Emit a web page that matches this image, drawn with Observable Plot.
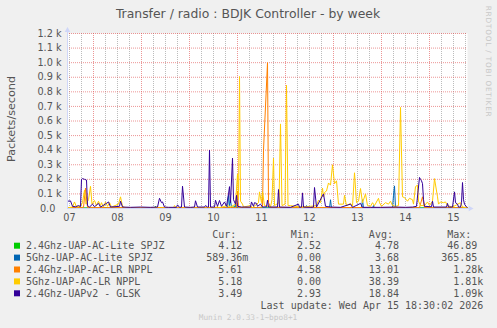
<!DOCTYPE html>
<html><head><meta charset="utf-8">
<script src="https://cdn.jsdelivr.net/npm/d3@7"></script>
<script src="https://cdn.jsdelivr.net/npm/@observablehq/plot@0.6"></script>
<style>
html,body{margin:0;padding:0;background:#F0F0F0;}
#wrap{position:relative;width:497px;height:328px;background:#F0F0F0;overflow:hidden;}
#wrap svg{position:absolute;left:0;top:0;}
</style></head><body><div id="wrap"></div>
<script>
// ---- data (hours since 2026-04-07 00:00 UTC, value in packets/second) ----
const titleText = "Transfer / radio : BDJK Controller - by week";
const yLabel = "Packets/second";
const seriesNames = ["2.4Ghz-UAP-AC-Lite SPJZ","5Ghz-UAP-AC-Lite SPJZ","2.4Ghz-UAP-AC-LR NPPL","5Ghz-UAP-AC-LR NPPL","2.4Ghz-UAPv2 - GLSK"];
const seriesColors = ["#00CC00","#0066B3","#FF8000","#FFCC00","#330099"];
const curVals = ["4.12","589.36m","5.61","5.18","3.49"];
const minVals = ["2.52","0.00","4.58","0.00","2.93"];
const avgVals = ["4.78","3.68","13.01","38.39","18.84"];
const maxVals = ["46.89","365.85","1.28k","1.81k","1.09k"];
const lastUpdate = "Last update: Wed Apr 15 18:30:02 2026";
const muninVersion = "Munin 2.0.33-1~bpo8+1";
const watermark = "RRDTOOL / TOBI OETIKER";
const dayLabels = [7,8,9,10,11,12,13,14,15];
const yTicks = [0,100,200,300,400,500,600,700,800,900,1000,1100,1200];
const startHour = 11, endHour = 211;

const green = [[11,4],[40,4],[54.5,4],[55,15],[55.5,4],[90,4],[95,12],[96,4],[140,5],[211,4.12]];
const blue = [[11,1],[60,1],[91,2],[91.5,90],[92,20],[92.5,60],[93,5],[94.5,5],[95,30],[95.5,3],[130,2],[130.5,20],[131,2],
  [142,2],[142.5,60],[143,2],[158,2],[158.5,60],[159,2],[163.5,2],[164,20],[164.5,2],[173.5,2],[174,90],[174.5,155],[175,2],[211,0.6]];
const orange = [[11,6],[19,8],[20,140],[21,8],[30,6],[60,7],[90,6],[95.5,6],[96,120],[96.5,6],[106,6],[108.5,10],[109,400],
  [111,1000],[111.5,40],[112.5,8],[140,7],[187,6],[188.5,80],[189.5,6],[211,5.61]];
const yellow = [[11,5],[13.5,10],[14.5,45],[15.5,10],[17.5,15],[18.5,40],[19.5,125],[20.25,30],[21.5,60],[22.5,152],[23.25,30],
  [24.5,55],[25.5,20],[26.5,50],[27.5,20],[28,40],[29,10],[30,45],[31,15],[32,40],[33,10],[36.5,30],[37.5,80],[38.5,15],[40,5],
  [42.5,3],[57.5,3],[64,5],[64.5,20],[65.5,3],[85,3],[86,15],[86.5,4],[91,20],[92.5,10],[95,30],[96,235],[96.5,60],[97,905],
  [97.5,50],[98.5,30],[99,10],[102.5,20],[103.5,5],[106.5,40],[107,114],[108,40],[108.5,114],[109.5,20],[112.5,10],[113.25,60],
  [114,345],[114.5,20],[116.75,40],[117.5,580],[118.25,20],[119.75,30],[120.5,845],[121.25,20],[122.5,20],[127.5,10],[132.5,15],
  [135.5,20],[136.5,57],[137.5,40],[138.5,140],[139,80],[139.5,110],[140.5,120],[141.5,175],[142.5,160],[143.5,300],[144.5,170],
  [145.5,190],[146.5,30],[149,30],[149.5,90],[150.5,20],[152.5,35],[153.5,15],[154.5,245],[155.5,40],[156.5,50],[157.5,137],
  [158.5,40],[160,100],[161,20],[162.5,15],[163.5,40],[164.5,20],[166.5,70],[167,40],[168,15],[170,40],[171.5,30],[172.5,50],
  [173.5,20],[175,15],[176.5,20],[177.5,693],[178.5,80],[179.5,75],[181,50],[182,70],[183.5,60],[184,30],[185,150],[186,160],
  [186.5,50],[187.5,20],[189.5,20],[191,45],[192,20],[193.5,50],[194.5,205],[196,80],[196.5,30],[197.5,45],[199,40],[200,45],
  [201,20],[203.5,10],[207.5,40],[208.5,10],[211,5.18]];
const purple = [[11,50],[12.5,52],[13.5,15],[15,12],[16.5,20],[17.5,14],[18,200],[18.5,205],[19.5,200],[20.5,195],[21,20],[22,10],
  [23.5,30],[24.5,12],[26.5,35],[27.5,10],[30.5,35],[31.5,45],[32.5,10],[37,15],[37.5,50],[38.5,10],[42.5,8],[47.5,10],[52.5,8],
  [56,10],[57,70],[58,40],[58.5,45],[59.5,10],[61.5,8],[65.5,8],[66,25],[67,8],[68,10],[68.5,153],[69.5,10],[72.5,8],[74.5,10],
  [75,53],[76,10],[79.5,10],[80,20],[81,10],[81.5,10],[82,400],[82.5,10],[84.5,10],[85,57],[86,15],[87,55],[88,15],[89.5,45],
  [90.5,15],[91.5,100],[92,150],[92.5,40],[93.5,345],[94,60],[95,30],[95.5,90],[96,15],[98,10],[102.5,10],[103,45],[104,15],
  [104.5,40],[105.5,35],[106,15],[107.5,30],[108.5,10],[110.5,12],[111,57],[111.5,10],[116,10],[116.5,130],[117,10],[122.5,8],
  [126.5,30],[127,8],[128,10],[128.5,107],[129,10],[132.5,8],[134,10],[134.5,144],[135.5,10],[139,100],[140,15],[142.5,10],
  [147.5,8],[152.5,30],[153.5,8],[157.5,35],[158.5,8],[162.5,8],[167.5,8],[175,10],[180,8],[183.5,10],[185.5,15],[187,213],
  [187.5,200],[188,190],[188.5,170],[189,60],[189.5,15],[193,12],[193.5,50],[194,10],[200.5,10],[201,35],[201.5,10],[203.5,10],
  [204.5,114],[205,40],[206,30],[206.5,10],[207.5,10],[208,40],[208.5,178],[209,60],[209.5,30],[210.5,10],[211,3.5]];

// ---- build ----
const T0 = Date.UTC(2026,3,7);
const hd = h => new Date(T0 + h*3600e3);
const allSeries = [green, blue, orange, yellow, purple];
const rows = allSeries.flatMap((arr,i) => arr.map(([h,v]) => ({t: hd(h), v, s: seriesNames[i]})));
const domainStart = hd(startHour), domainEnd = hd(endHour);
const midnights = d3.utcDay.range(domainStart, domainEnd);
const sixHours = d3.utcHour.every(6).range(domainStart, domainEnd).filter(d => d.getUTCHours() !== 0);
const noons = dayLabels.map(d => new Date(Date.UTC(2026,3,d,12)));
const gridY = yTicks.filter(v => v > 0);

const W = 497, H = 228;
const chart = Plot.plot({
  width: W, height: H,
  marginLeft: 67, marginRight: 30, marginTop: 33, marginBottom: 20,
  style: {background: "transparent", fontFamily: "DejaVu Sans", fontSize: "9.7px", color: "#555555", overflow: "visible"},
  x: {type: "utc", domain: [domainStart, domainEnd], label: null},
  y: {domain: [0, 1200], label: null},
  color: {domain: seriesNames, range: seriesColors},
  marks: [
    Plot.frame({fill: "white", stroke: null}),
    Plot.ruleX(sixHours, {x: d => d, stroke: "#8F8F8F", strokeOpacity: 0.6, strokeDasharray: "1,1"}),
    Plot.ruleX(midnights, {x: d => d, stroke: "#E05050", strokeOpacity: 0.6, strokeDasharray: "1,1"}),
    Plot.ruleY(gridY, {y: d => d, stroke: "#E05050", strokeOpacity: 0.6, strokeDasharray: "1,1"}),
    Plot.line(rows, {x: "t", y: "v", z: "s", stroke: "s", strokeWidth: 1}),
    Plot.ruleX([domainStart], {x: d => d, y1: 0, y2: 1235, stroke: "#CFD6F8"}),
    Plot.ruleY([0], {y: d => d, x1: domainStart, x2: hd(endHour + 1.5), stroke: "#CFD6F8"}),
    Plot.dot([0], {frameAnchor: "top-left", dy: -3.2, symbol: "triangle", r: 2.1, fill: "#CFD6F8", stroke: null}),
    Plot.dot([0], {frameAnchor: "bottom-right", dx: 2.8, symbol: "triangle", r: 2.1, fill: "#CFD6F8", stroke: null, rotate: 90}),
    Plot.axisY({ticks: yTicks, tickSize: 0, tickPadding: 6,
      tickFormat: d => d === 0 ? "0.0\u2007" : (d/1000).toFixed(1) + " k"}),
    Plot.axisX({ticks: noons, tickSize: 0, tickPadding: 5.4, tickFormat: d3.utcFormat("%d")})
  ]
});
const wrap = document.getElementById("wrap");
wrap.appendChild(chart);

// ---- texts and legend ----
const svg = d3.select(wrap).append("svg").attr("width", W).attr("height", 328)
  .style("pointer-events", "none");
svg.append("text").attr("x", 248).attr("y", 18).attr("text-anchor", "middle")
  .attr("font-family", "DejaVu Sans").attr("font-size", 12.4).attr("fill", "#555").text(titleText);
svg.append("text").attr("transform", "translate(14.5,119) rotate(-90)").attr("text-anchor", "middle")
  .attr("font-family", "DejaVu Sans").attr("font-size", 11.2).attr("fill", "#555").text(yLabel);
svg.append("text").attr("transform", "translate(485.5,61.2) rotate(90)").attr("text-anchor", "middle")
  .attr("font-family", "DejaVu Sans").attr("font-size", 7.3).attr("fill", "#C8C8C8")
  .attr("textLength", 111).attr("lengthAdjust", "spacing").text(watermark);

const mono = "DejaVu Sans Mono", fs = 10, cw = 0.602 * fs;
const colEnds = [248.3, 327, 405, 483.3];
const headers = ["Cur:", "Min:", "Avg:", "Max:"];
const rowY = i => 249.4 + 11.9 * i;
headers.forEach((h, j) => svg.append("text").attr("x", colEnds[j] - 2*cw).attr("y", 237.7)
  .attr("text-anchor", "end").attr("font-family", mono).attr("font-size", fs).attr("fill", "#555").text(h));
const cols = [curVals, minVals, avgVals, maxVals];
seriesNames.forEach((name, i) => {
  svg.append("rect").attr("x", 14).attr("y", rowY(i) - 6.7).attr("width", 6).attr("height", 6).attr("fill", seriesColors[i]);
  svg.append("text").attr("x", 26).attr("y", rowY(i)).attr("font-family", mono).attr("font-size", fs).attr("fill", "#555").text(name);
  cols.forEach((col, j) => {
    const v = col[i];
    const hasSuffix = /[a-z]$/.test(v);
    svg.append("text").attr("x", colEnds[j] - (hasSuffix ? 0 : cw)).attr("y", rowY(i)).attr("text-anchor", "end")
      .attr("font-family", mono).attr("font-size", fs).attr("fill", "#555").text(v);
  });
});
svg.append("text").attr("x", 483.3).attr("y", 309.2).attr("text-anchor", "end")
  .attr("font-family", mono).attr("font-size", fs).attr("fill", "#555").text(lastUpdate);
svg.append("text").attr("x", 248).attr("y", 320.2).attr("text-anchor", "middle")
  .attr("font-family", mono).attr("font-size", 7.8).attr("fill", "#C8C8C8").text(muninVersion);
</script></body></html>
